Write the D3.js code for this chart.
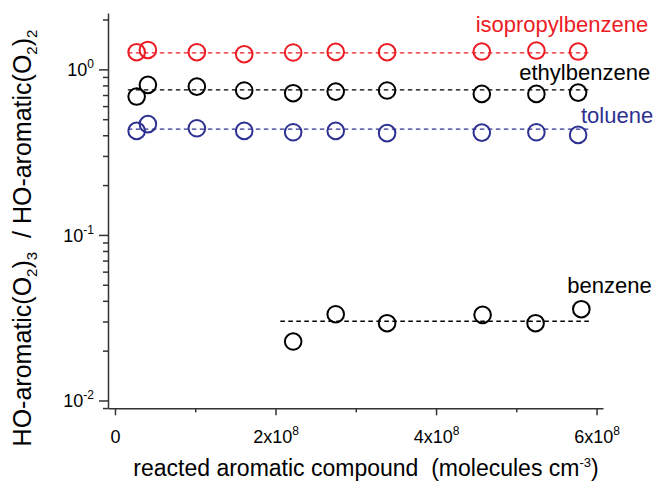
<!DOCTYPE html>
<html>
<head>
<meta charset="utf-8">
<script src="https://cdn.jsdelivr.net/npm/d3@7"></script>
<style>
  body { margin: 0; background: #fff; }
  svg { display: block; font-family: "Liberation Sans", Arial, Helvetica, sans-serif; }
  text { white-space: pre; }
</style>
</head>
<body>
<div id="chart"></div>
<script>
// values (x in molecules cm^-3, y = ratio)
const seriesNames = ["isopropylbenzene", "ethylbenzene", "toluene", "benzene"];
const seriesColors = ["#ec1c24", "#000000", "#2e3192", "#000000"];

const xIsopropyl = [0.27e8, 0.41e8, 1.02e8, 1.61e8, 2.22e8, 2.75e8, 3.39e8, 4.57e8, 5.25e8, 5.77e8];
const yIsopropyl = [1.27, 1.31, 1.27, 1.235, 1.264, 1.275, 1.27, 1.281, 1.299, 1.281];

const xEthyl = [0.27e8, 0.41e8, 1.02e8, 1.61e8, 2.22e8, 2.75e8, 3.39e8, 4.57e8, 5.25e8, 5.77e8];
const yEthyl = [0.685, 0.806, 0.787, 0.745, 0.718, 0.734, 0.745, 0.711, 0.711, 0.724];

const xToluene = [0.27e8, 0.41e8, 1.02e8, 1.61e8, 2.22e8, 2.75e8, 3.39e8, 4.57e8, 5.25e8, 5.77e8];
const yToluene = [0.425, 0.467, 0.441, 0.425, 0.417, 0.425, 0.412, 0.415, 0.417, 0.402];

const xBenzene = [2.22e8, 2.75e8, 3.39e8, 4.58e8, 5.24e8, 5.81e8];
const yBenzene = [0.0227, 0.0332, 0.0293, 0.0329, 0.0293, 0.0356];

// dashed mean lines
const fitLevels = [1.258, 0.752, 0.435, 0.0301];
const fitStart = [0.16e8, 0.16e8, 0.16e8, 2.06e8];
const fitEnd = [5.92e8, 5.92e8, 5.92e8, 5.94e8];

// axis ticks
const xMajorTicks = [0, 2e8, 4e8, 6e8];
const xMinorTicks = [1e8, 3e8, 5e8];
const yMajorTicks = [0.01, 0.1, 1];


const width = 665;
const height = 491;

const svg = d3.select("#chart").append("svg")
    .attr("width", width)
    .attr("height", height);

const x = d3.scaleLinear()
    .domain([-0.087e8, 6.08e8])
    .range([108, 603]);

const y = d3.scaleLog()
    .domain([0.00897, 2.19])
    .range([408.3, 13]);

const axisColor = "#333";

// minor ticks on the log axis: every 1..9 step except the decades
const yMinorTicks = y.ticks().filter(v => !yMajorTicks.some(m => Math.abs(m - v) / m < 1e-6));

function styleAxis(g) {
    g.selectAll("path, line").attr("stroke", axisColor).attr("stroke-width", 1.5);
}

// x axis
const xAxisG = svg.append("g").attr("transform", "translate(0,408.3)");
xAxisG.append("g")
    .call(d3.axisBottom(x).tickValues(xMinorTicks).tickSize(4).tickSizeOuter(0).tickFormat(""))
    .call(g => g.select(".domain").remove())
    .call(styleAxis);
xAxisG.append("g")
    .call(d3.axisBottom(x).tickValues(xMajorTicks).tickSize(7).tickSizeOuter(0))
    .call(styleAxis)
    .call(g => g.selectAll(".tick text").each(function(d) {
        const t = d3.select(this).text("")
            .attr("y", 35).attr("dy", null)
            .attr("fill", "#000")
            .attr("font-size", 18)
            .attr("font-family", null);
        if (d === 0) {
            t.text("0");
        } else {
            t.append("tspan").text((d / 1e8) + "x10");
            t.append("tspan").attr("dy", -8).attr("font-size", 12).text("8");
        }
    }));

// y axis
const yAxisG = svg.append("g").attr("transform", "translate(108,0)");
yAxisG.append("g")
    .call(d3.axisLeft(y).tickValues(yMinorTicks).tickSize(5).tickSizeOuter(0).tickFormat(""))
    .call(g => g.select(".domain").remove())
    .call(styleAxis);
yAxisG.append("g")
    .call(d3.axisLeft(y).tickValues(yMajorTicks).tickSize(9).tickSizeOuter(0))
    .call(styleAxis)
    .call(g => g.selectAll(".tick text").each(function(d) {
        const t = d3.select(this).text("")
            .attr("x", -14).attr("dy", "0.36em")
            .attr("fill", "#000")
            .attr("font-size", 18)
            .attr("font-family", null);
        t.append("tspan").text("10");
        t.append("tspan").attr("dy", -8).attr("font-size", 12).text(Math.round(Math.log10(d)));
    }));

// axis titles
const xTitle = svg.append("text")
    .attr("x", 366).attr("y", 476)
    .attr("text-anchor", "middle")
    .attr("font-size", 23);
xTitle.append("tspan").text("reacted aromatic compound  (molecules cm");
xTitle.append("tspan").attr("dy", -9).attr("font-size", 13).text("-3");
xTitle.append("tspan").attr("dy", 9).text(")");

const yTitle = svg.append("text")
    .attr("transform", "translate(31,238) rotate(-90)")
    .attr("text-anchor", "middle")
    .attr("font-size", 25);
yTitle.append("tspan").text("HO-aromatic(O");
yTitle.append("tspan").attr("dy", 6).attr("font-size", 15).text("2");
yTitle.append("tspan").attr("dy", -6).text(")");
yTitle.append("tspan").attr("dy", 6).attr("font-size", 15).text("3");
yTitle.append("tspan").attr("dy", -6).text("  / HO-aromatic(O");
yTitle.append("tspan").attr("dy", 6).attr("font-size", 15).text("2");
yTitle.append("tspan").attr("dy", -6).text(")");
yTitle.append("tspan").attr("dy", 6).attr("font-size", 15).text("2");

// series
const series = [
    {xs: xIsopropyl, ys: yIsopropyl},
    {xs: xEthyl, ys: yEthyl},
    {xs: xToluene, ys: yToluene},
    {xs: xBenzene, ys: yBenzene}
].map((s, i) => ({
    name: seriesNames[i],
    color: seriesColors[i],
    fit: fitLevels[i],
    x0: fitStart[i],
    x1: fitEnd[i],
    points: s.xs.map((xv, j) => ({x: xv, y: s.ys[j]}))
}));

// dashed lines first, circles on top
svg.selectAll(".fit")
    .data(series)
    .join("line")
    .attr("class", "fit")
    .attr("x1", d => x(d.x0))
    .attr("x2", d => x(d.x1))
    .attr("y1", d => y(d.fit))
    .attr("y2", d => y(d.fit))
    .attr("stroke", d => d.color)
    .attr("stroke-width", 1.3)
    .attr("stroke-dasharray", "4.5,3.5");

const groups = svg.selectAll(".series")
    .data(series)
    .join("g")
    .attr("class", "series");

groups.selectAll("circle")
    .data(d => d.points.map(p => ({...p, color: d.color})))
    .join("circle")
    .attr("cx", d => x(d.x))
    .attr("cy", d => y(d.y))
    .attr("r", 8.3)
    .attr("fill", "none")
    .attr("stroke", d => d.color)
    .attr("stroke-width", 2);

// series labels, placed above the right end of each mean line
const labelDx = [58, 60, 63, 60];
const labelDy = [-21, -10, -6, -28];
svg.selectAll(".label")
    .data(series)
    .join("text")
    .attr("class", "label")
    .attr("x", (d, i) => x(d.x1) + labelDx[i])
    .attr("y", (d, i) => y(d.fit) + labelDy[i])
    .attr("text-anchor", "end")
    .attr("font-size", 22)
    .attr("fill", d => d.color)
    .text(d => d.name);
</script>
</body>
</html>
